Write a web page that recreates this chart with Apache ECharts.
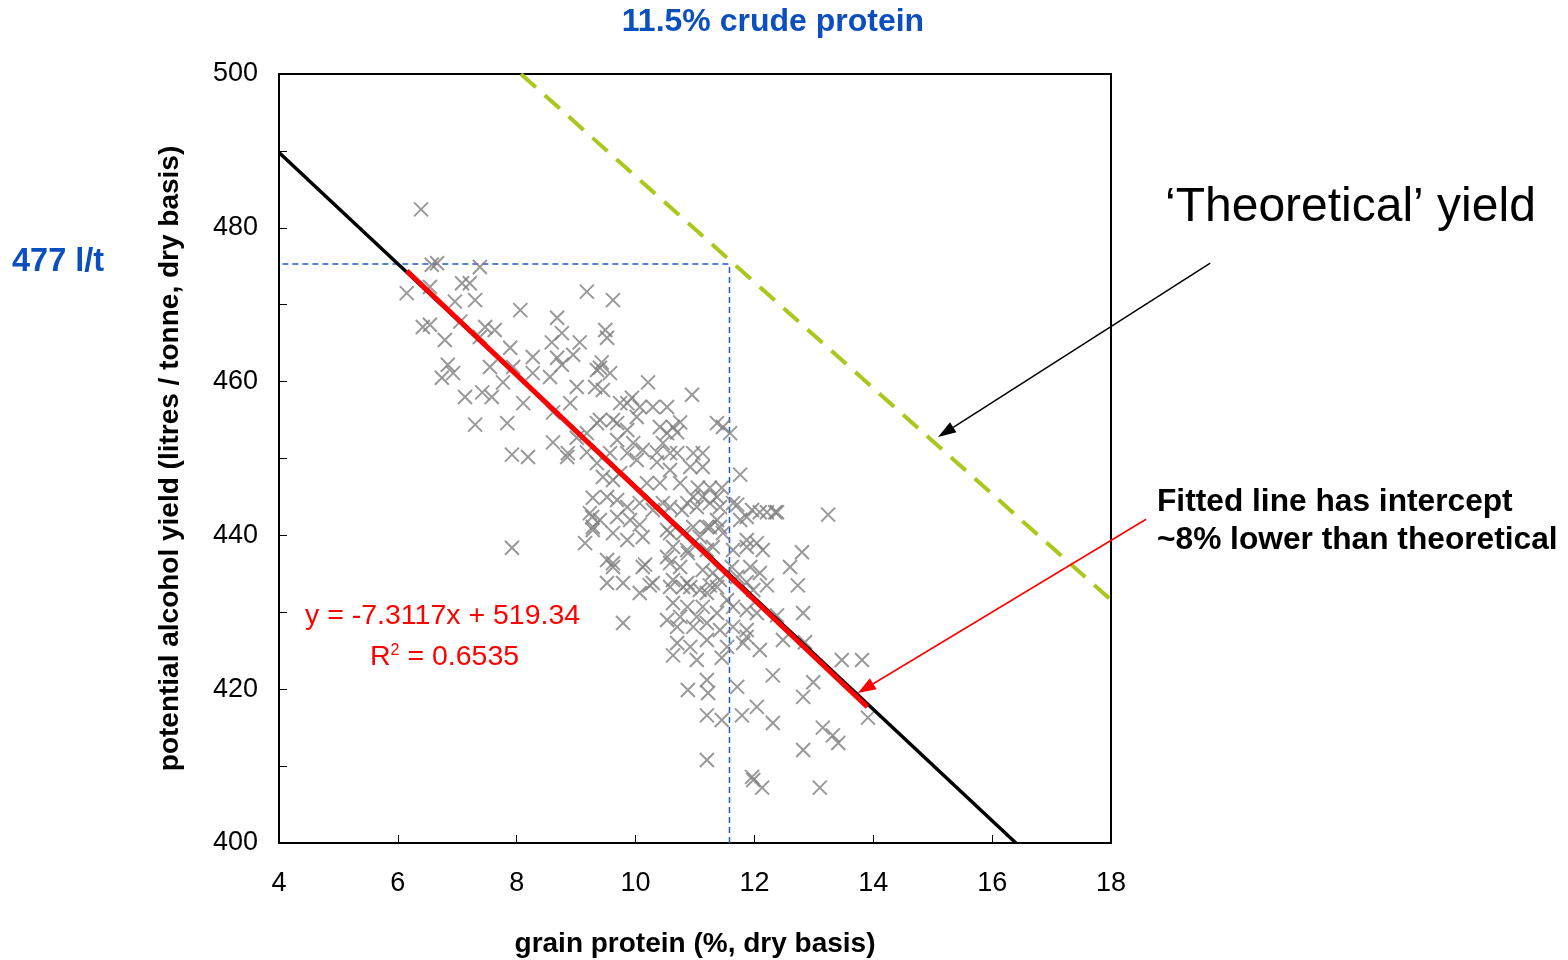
<!DOCTYPE html>
<html>
<head>
<meta charset="utf-8">
<script src="https://cdn.jsdelivr.net/npm/echarts@6/dist/echarts.min.js"></script>
<style>
html, body { margin: 0; padding: 0; background: #fff; }
#chart { width: 1568px; height: 960px; }
</style>
</head>
<body>
<div id="chart"></div>
<script>
// grain protein (%) for each sample
const proteinX = [
  6.39, 6.15, 6.57, 6.66, 7.38, 6.54, 7.08, 7.21, 7.30, 6.96, 9.18, 9.62, 8.06, 8.68, 6.42, 6.54, 7.05, 7.47, 7.63, 6.79,
  7.38, 8.76, 8.59, 9.06, 9.49, 9.52, 7.89, 8.27, 8.68, 8.76, 8.95, 6.84, 6.93, 6.74, 7.55, 7.94, 8.27, 8.56, 7.77, 9.40,
  9.57, 9.32, 9.45, 9.01, 7.13, 7.42, 7.58, 8.11, 8.61, 8.90, 9.74, 7.30, 7.84, 8.61, 9.01, 9.35, 9.62, 7.92, 8.19, 8.85,
  7.92, 9.15, 9.27, 9.28, 9.52, 9.62, 10.16, 10.21, 9.43, 9.35, 10.95, 9.86, 9.94, 10.07, 10.29, 10.53, 10.02, 10.75, 9.40, 9.69,
  10.41, 10.63, 11.37, 11.47, 11.59, 9.86, 9.18, 9.69, 9.96, 10.46, 10.12, 10.36, 10.70, 10.97, 11.13, 10.53, 10.70, 11.76, 11.13, 10.58,
  10.75, 11.05, 11.25, 11.45, 10.97, 11.13, 11.37, 11.71, 11.96, 12.09, 12.35, 13.24, 10.78, 10.46, 11.37, 11.42, 11.76, 11.20, 10.58, 10.80,
  11.08, 12.04, 11.87, 12.14, 12.80, 10.63, 10.88, 11.20, 10.53, 12.60, 11.93, 12.09, 11.62, 11.13, 11.30, 11.42, 12.73, 12.21, 11.87, 10.63,
  10.92, 11.20, 12.82, 12.38, 12.21, 12.85, 12.48, 12.38, 8.86, 9.18, 9.35, 9.57, 9.86, 10.02, 10.36, 10.58, 10.92, 9.45, 9.62, 9.74,
  10.19, 10.41, 11.64, 9.28, 9.52, 9.69, 9.86, 10.07, 10.29, 10.58, 10.87, 11.03, 11.25, 11.42, 11.87, 9.23, 9.40, 9.69, 9.91, 10.07,
  9.28, 9.62, 9.86, 10.12, 10.53, 10.97, 11.25, 11.47, 10.87, 11.30, 11.64, 11.87, 9.62, 10.12, 10.58, 10.75, 11.71, 9.52, 9.79, 10.07,
  10.29, 10.58, 10.87, 11.08, 11.37, 11.54, 11.98, 10.63, 10.87, 11.13, 11.37, 11.64, 11.87, 9.79, 10.53, 10.70, 10.97, 11.20, 11.42, 11.64,
  11.87, 10.24, 10.80, 11.25, 11.03, 10.75, 12.04, 12.09, 10.70, 10.92, 11.20, 11.54, 11.81, 10.63, 11.03, 11.45, 13.47, 13.81, 12.31, 12.99,
  11.20, 10.88, 11.22, 11.71, 12.82, 12.04, 11.20, 11.45, 11.79, 12.31, 13.15, 13.32, 13.41, 13.91, 12.82, 11.20, 11.96, 11.98, 12.13, 13.10,
  11.87
]
// potential alcohol yield (l/t) for each sample
const yieldY = [
  482.4, 471.5, 475.2, 475.4, 474.9, 472.3, 472.8, 472.8, 470.6, 470.4, 471.7, 470.6, 469.3, 468.3, 467.1, 467.4, 467.8, 467.1, 466.7, 465.4,
  465.8, 466.3, 465.1, 465.1, 466.7, 465.7, 464.4, 463.2, 463.1, 462.2, 463.5, 462.2, 461.1, 460.5, 461.9, 461.9, 461.1, 460.6, 459.9, 461.8,
  461.1, 459.3, 458.9, 459.3, 458.0, 458.6, 458.0, 457.2, 456.0, 457.2, 457.2, 454.4, 454.6, 452.1, 452.7, 454.6, 455.0, 450.5, 450.2, 450.2,
  438.4, 439.0, 442.4, 441.1, 436.8, 436.4, 436.2, 459.9, 462.5, 461.5, 458.3, 457.2, 457.9, 456.7, 456.7, 456.7, 455.4, 454.7, 455.0, 454.6,
  454.1, 454.1, 454.6, 454.1, 453.3, 453.7, 453.3, 452.4, 452.0, 452.0, 451.1, 450.8, 450.7, 450.7, 450.7, 453.3, 453.4, 447.9, 448.9, 448.5,
  446.8, 446.2, 446.2, 446.2, 445.0, 445.0, 445.0, 444.0, 443.3, 443.0, 443.0, 442.7, 443.3, 444.2, 442.0, 441.1, 442.0, 441.1, 440.3, 440.3,
  439.8, 439.0, 439.4, 438.1, 437.8, 438.5, 437.7, 438.1, 437.2, 435.9, 435.9, 435.1, 435.9, 435.5, 435.1, 434.2, 433.5, 433.5, 433.9, 434.2,
  433.3, 432.5, 429.9, 443.0, 443.0, 426.1, 426.4, 429.6, 450.7, 450.8, 449.4, 450.7, 450.7, 449.8, 449.5, 450.7, 448.9, 447.6, 447.2, 448.1,
  446.8, 446.8, 444.2, 444.9, 445.0, 444.6, 443.7, 444.2, 443.3, 443.7, 444.2, 443.7, 444.2, 443.7, 442.4, 442.9, 442.0, 442.4, 442.0, 441.4,
  440.7, 440.3, 439.4, 439.8, 440.7, 441.1, 441.1, 440.3, 438.1, 438.5, 438.1, 438.5, 435.9, 435.9, 436.4, 435.9, 434.6, 433.8, 433.8, 432.5,
  433.8, 433.3, 433.8, 432.9, 433.3, 431.6, 432.9, 431.2, 430.7, 430.7, 429.9, 430.7, 430.3, 428.6, 429.0, 428.1, 428.1, 428.6, 427.7, 428.1,
  427.7, 433.5, 433.3, 433.5, 429.4, 429.4, 429.9, 425.1, 426.0, 425.5, 426.4, 425.5, 426.0, 424.4, 423.8, 424.1, 423.8, 423.8, 421.8, 420.9,
  421.2, 419.9, 419.5, 420.3, 419.0, 417.7, 416.6, 416.0, 416.6, 415.6, 415.0, 414.0, 413.0, 416.3, 412.1, 410.8, 408.6, 408.2, 407.2, 407.2,
  426.8
]

// fitted regression, extended over the axis (black) and over the data (red)
const fitFullX = [4, 16.4]
const fitFullY = [489.8, 400]
const fitDataX = [6.15, 13.9]
const fitDataY = [474.4, 417.7]
// theoretical yield line (green dashed)
const theoX = [8.07, 18]
const theoY = [500, 431.6]
// 11.5% crude protein guide (blue dashed)
const guideHX = [3.72, 11.58]
const guideHY = [475.3, 475.3]
const guideVX = [11.58, 11.58]
const guideVY = [400, 475.3]
// annotation arrows (data coords: from -> to)
const theoArrowFrom = [19.67, 475.4]
const theoArrowTo = [15.09, 452.8]
const fitArrowFrom = [18.59, 442.1]
const fitArrowTo = [13.74, 419.5]

const xTicks = [4, 18, 2]
const yTicks = [400, 500, 10]

const FONT = '"Liberation Sans", Arial, sans-serif'
const pairs = (xs, ys) => xs.map((x, i) => [x, ys[i]])

const chart = echarts.init(document.getElementById('chart'))

const setOptions = () => {
  chart.setOption({
    backgroundColor: '#fff',
    animation: false,
    textStyle: { fontFamily: FONT },
    grid: {
      left: 279,
      right: 457,
      top: 74,
      bottom: 117,
      outerBoundsMode: 'none',
      show: true,
      borderColor: '#000',
      borderWidth: 2,
    },
    xAxis: {
      type: 'value',
      min: xTicks[0],
      max: xTicks[1],
      interval: xTicks[2],
      name: 'grain protein (%, dry basis)',
      nameLocation: 'middle',
      nameGap: 87,
      nameTextStyle: { color: '#000', fontSize: 28, fontWeight: 'bold', fontFamily: FONT },
      axisLine: { show: true, lineStyle: { color: '#000', width: 2 } },
      axisTick: { show: true, inside: true, length: 8, lineStyle: { color: '#000', width: 1 } },
      axisLabel: { color: '#000', fontSize: 27, margin: 27, fontFamily: FONT },
      splitLine: { show: false },
    },
    yAxis: {
      type: 'value',
      min: yTicks[0],
      max: yTicks[1],
      interval: yTicks[2],
      name: 'potential alcohol yield (litres / tonne, dry basis)',
      nameLocation: 'middle',
      nameGap: 95,
      nameTextStyle: { color: '#000', fontSize: 28, fontWeight: 'bold', fontFamily: FONT },
      axisLine: { show: true, lineStyle: { color: '#000', width: 2 } },
      axisTick: { show: true, inside: true, length: 8, lineStyle: { color: '#000', width: 1 } },
      axisLabel: {
        color: '#000',
        fontSize: 27,
        margin: 21,
        fontFamily: FONT,
        formatter: function (v) {
          return v % 20 === 0 ? String(v) : ''
        },
      },
      splitLine: { show: false },
    },
    series: [
      {
        name: 'guideH',
        type: 'line',
        data: pairs(guideHX, guideHY),
        symbol: 'none',
        clip: false,
        lineStyle: { color: '#1f5cc4', width: 1.5, type: [6, 4] },
        z: 1,
      },
      {
        name: 'guideV',
        type: 'line',
        data: pairs(guideVX, guideVY),
        symbol: 'none',
        lineStyle: { color: '#1f5cc4', width: 1.5, type: [6, 4] },
        z: 1,
      },
      {
        name: 'samples',
        type: 'scatter',
        data: pairs(proteinX, yieldY),
        symbol: 'path://M0 0L10 10M10 0L0 10',
        symbolSize: 14,
        itemStyle: { color: 'rgba(0,0,0,0)', borderColor: '#808080', borderWidth: 2 },
        z: 2,
      },
      {
        name: 'theoretical',
        type: 'line',
        data: pairs(theoX, theoY),
        symbol: 'none',
        clip: false,
        lineStyle: { color: '#a9c81c', width: 4, type: [20, 12] },
        z: 3,
      },
      {
        name: 'fitFull',
        type: 'line',
        data: pairs(fitFullX, fitFullY),
        symbol: 'none',
        lineStyle: { color: '#000', width: 3.5 },
        z: 3,
      },
      {
        name: 'fitData',
        type: 'line',
        data: pairs(fitDataX, fitDataY),
        symbol: 'none',
        lineStyle: { color: '#ff0000', width: 5 },
        z: 4,
      },
    ],
  })
}

const arrow = (from, to, color, width, headLen, headW) => {
  const p0 = chart.convertToPixel({ gridIndex: 0 }, from)
  const p1 = chart.convertToPixel({ gridIndex: 0 }, to)
  const ang = Math.atan2(p1[1] - p0[1], p1[0] - p0[0])
  const bx = p1[0] - headLen * Math.cos(ang)
  const by = p1[1] - headLen * Math.sin(ang)
  const nx = -Math.sin(ang) * headW / 2
  const ny = Math.cos(ang) * headW / 2
  return [
    { type: 'line', shape: { x1: p0[0], y1: p0[1], x2: bx, y2: by }, style: { stroke: color, lineWidth: width }, z: 10 },
    { type: 'polygon', shape: { points: [[p1[0], p1[1]], [bx + nx, by + ny], [bx - nx, by - ny]] }, style: { fill: color }, z: 10 },
  ]
}

const txt = (text, x, y, size, color, weight, align) => ({
  type: 'text',
  x: x,
  y: y,
  z: 10,
  style: {
    text: text,
    fill: color,
    font: (weight || 'normal') + ' ' + size + 'px ' + FONT,
    textAlign: align || 'left',
    textVerticalAlign: 'middle',
  },
})

setOptions()

chart.setOption({
  graphic: [
    txt('11.5% crude protein', 773, 22, 32, '#0b4fbf', 'bold', 'center'),
    txt('477 l/t', 12, 262, 32.5, '#0b4fbf', 'bold'),
    txt('\u2018Theoretical\u2019 yield', 1165, 208, 48, '#000'),
    txt('Fitted line has intercept', 1157, 502, 31.7, '#000', 'bold'),
    txt('~8% lower than theoretical', 1157, 540, 31.7, '#000', 'bold'),
    txt('y = -7.3117x + 519.34', 305, 616, 28.5, '#ff0000'),
    {
      type: 'text',
      x: 370,
      y: 657,
      z: 10,
      style: {
        text: '{b|R}{s|2}{b| = 0.6535}',
        textVerticalAlign: 'middle',
        rich: {
          b: { fill: '#ff0000', fontSize: 28.5, fontFamily: FONT },
          s: { fill: '#ff0000', fontSize: 16, fontFamily: FONT, verticalAlign: 'top', padding: [0, 0, 12, 0] },
        },
      },
    },
    ...arrow(theoArrowFrom, theoArrowTo, '#000', 1.5, 18, 12),
    ...arrow(fitArrowFrom, fitArrowTo, '#ff0000', 1.5, 18, 13),
  ],
})

window.addEventListener('resize', () => {
  chart.resize()
})
</script>
</body>
</html>
